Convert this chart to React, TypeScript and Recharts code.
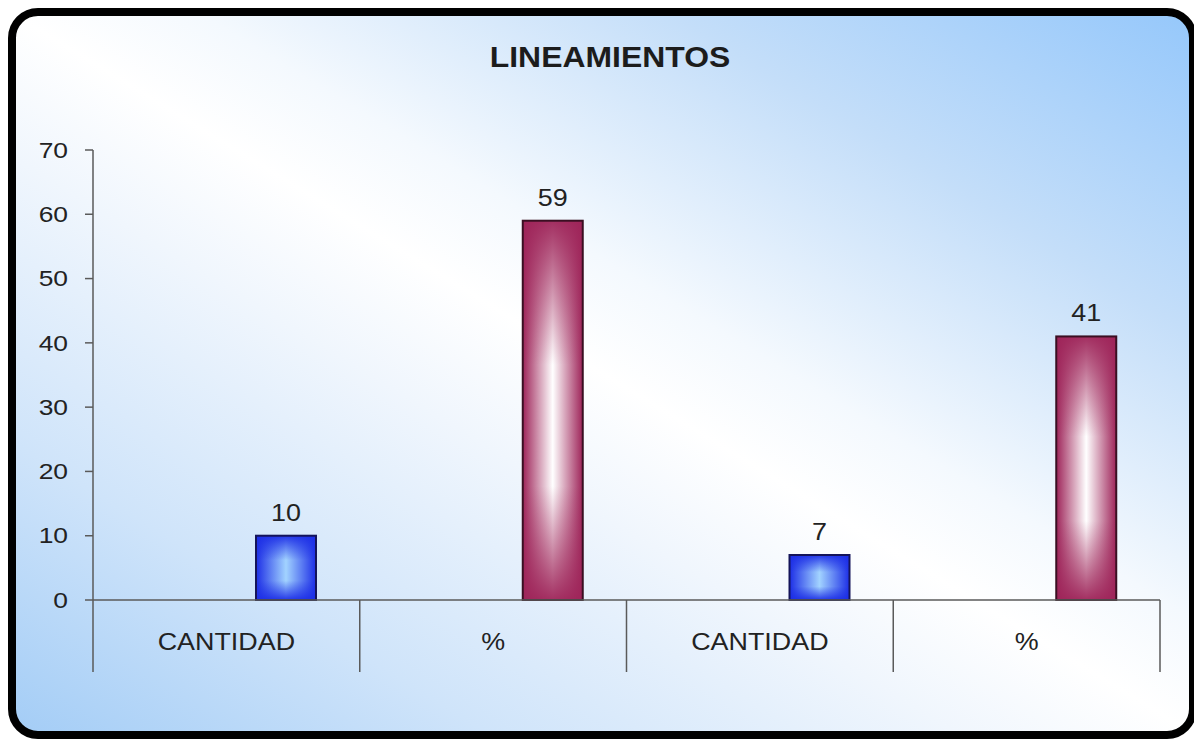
import React from 'react';
import { BarChart, Bar, XAxis, YAxis, LabelList } from 'recharts';

const categories = ['CANTIDAD', '%', 'CANTIDAD', '%'];
const values = [10, 59, 7, 41];
const kinds = ['count', 'percent', 'count', 'percent'];
const yTicks = [0, 10, 20, 30, 40, 50, 60, 70];
const title = 'LINEAMIENTOS';

const data = categories.map((c, i) => ({ name: c, value: values[i], kind: kinds[i], key: 'k' + i }));

const palette: Record<string, { edge: string; center: string; stroke: string }> = {
  count: { edge: '#1c2ee6', center: '#a2d3ff', stroke: '#14145a' },
  percent: { edge: '#9e2459', center: '#ffffff', stroke: '#3a0f22' },
};

const FONT = '"Liberation Sans", Arial, sans-serif';
const TEXT = '#222222';

const GradientBar = (props: any) => {
  const { x, y, width, height, payload } = props;
  if (!height || height <= 0) return null;
  const k = payload.kind;
  return (
    <g>
      <rect x={x} y={y} width={width} height={height} fill={`url(#h-${k})`} />
      <rect x={x} y={y} width={width} height={height} fill={`url(#v-${k})`} />
      <rect x={x} y={y} width={width} height={height} fill="none" stroke={palette[k].stroke} strokeWidth={2} />
    </g>
  );
};

const CategoryTick = (props: any) => {
  const { x, y, payload, index } = props;
  const half = payload && payload.offset ? payload.offset : 133.4;
  const isLast = index === categories.length - 1;
  return (
    <g>
      <line x1={x - half} y1={y} x2={x - half} y2={y + 72} stroke="#5a5a5a" strokeWidth={1.5} />
      {isLast && <line x1={x + half} y1={y} x2={x + half} y2={y + 72} stroke="#5a5a5a" strokeWidth={1.5} />}
      <g transform={`translate(${x},${y + 42}) scale(1.12,1)`}>
        <text x={0} y={0} textAnchor="middle" dominantBaseline="central" fill={TEXT} fontSize={24} fontFamily={FONT}>
          {categories[index]}
        </text>
      </g>
    </g>
  );
};

const ValueTick = (props: any) => {
  const { x, y, payload } = props;
  return (
    <g transform={`translate(${x},${y}) scale(1.2,1)`}>
      <text x={0} y={0} textAnchor="end" dominantBaseline="central" fill={TEXT} fontSize={22} fontFamily={FONT}>
        {payload.value}
      </text>
    </g>
  );
};

const BarValueLabel = (props: any) => {
  const { x, y, width, value } = props;
  if (value === undefined || value === null) return null;
  return (
    <g transform={`translate(${x + width / 2},${y - 15}) scale(1.17,1)`}>
      <text x={0} y={0} textAnchor="middle" fill={TEXT} fontSize={23} fontFamily={FONT}>
        {value}
      </text>
    </g>
  );
};

export default function App() {
  return (
    <div
      style={{
        position: 'relative',
        width: 1189,
        height: 731,
        boxSizing: 'border-box',
        border: '8px solid #000',
        borderRadius: 30,
        overflow: 'hidden',
        background:
          'linear-gradient(to bottom left, #96c8fb 0%, #c4def9 22%, #f4f9fe 42%, #ffffff 50%, #f0f6fd 60%, #cfe4fa 80%, #a4cdf6 100%)',
        fontFamily: FONT,
      }}
    >
      <div
        style={{
          position: 'absolute',
          left: 394,
          top: 27,
          width: 400,
          textAlign: 'center',
          fontSize: 29,
          lineHeight: '29px',
          fontWeight: 'bold',
          color: '#1c1c1c',
          fontFamily: FONT,
          transform: 'scaleX(1.1)',
        }}
      >
        {title}
      </div>
      <div style={{ position: 'absolute', left: 0, top: 0 }}>
        <BarChart
          width={1173}
          height={715}
          data={data}
          margin={{ top: 134, right: 29, left: 17, bottom: 59 }}
          barSize={60}
          barGap={0}
        >
          <defs>
            {Object.keys(palette).map((k) => (
              <React.Fragment key={k}>
                <linearGradient id={`h-${k}`} x1="0" y1="0" x2="1" y2="0">
                  <stop offset="0" stopColor={palette[k].edge} />
                  <stop offset="0.5" stopColor={palette[k].center} />
                  <stop offset="1" stopColor={palette[k].edge} />
                </linearGradient>
                <linearGradient id={`v-${k}`} x1="0" y1="0" x2="0" y2="1">
                  <stop offset="0" stopColor={palette[k].edge} stopOpacity={0.95} />
                  <stop offset="0.38" stopColor={palette[k].edge} stopOpacity={0} />
                  <stop offset="0.7" stopColor={palette[k].edge} stopOpacity={0} />
                  <stop offset="1" stopColor={palette[k].edge} stopOpacity={0.95} />
                </linearGradient>
              </React.Fragment>
            ))}
          </defs>
          <XAxis
            dataKey="key"
            height={72}
            axisLine={{ stroke: '#5a5a5a', strokeWidth: 1.5 }}
            tickLine={false}
            tickSize={0}
            tickMargin={0}
            interval={0}
            tick={<CategoryTick />}
          />
          <YAxis
            domain={[0, 70]}
            ticks={yTicks}
            width={60}
            axisLine={{ stroke: '#5a5a5a', strokeWidth: 1.5 }}
            tickLine={{ stroke: '#5a5a5a', strokeWidth: 1.5 }}
            tickSize={8}
            tickMargin={17}
            tick={<ValueTick />}
            interval={0}
          />
          <Bar dataKey="padA" isAnimationActive={false} />
          <Bar dataKey="padB" isAnimationActive={false} />
          <Bar dataKey="value" isAnimationActive={false} shape={<GradientBar />}>
            <LabelList dataKey="value" content={<BarValueLabel />} />
          </Bar>
        </BarChart>
      </div>
    </div>
  );
}
